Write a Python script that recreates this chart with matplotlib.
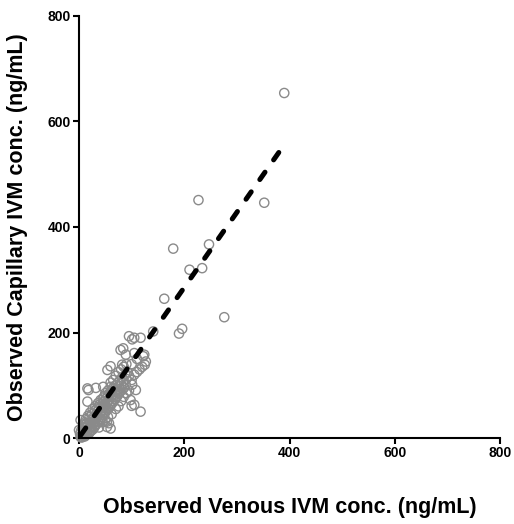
import matplotlib
matplotlib.use("Agg")
import matplotlib.pyplot as plt

plt.rcParams["font.family"] = ["Liberation Sans", "DejaVu Sans"]
plt.rcParams["font.weight"] = "bold"
plt.rcParams["lines.scale_dashes"] = False

# observed venous (x) vs capillary (y) IVM concentrations, ng/mL
venous = [
    390, 227, 352, 179, 247, 210, 234, 162, 276, 196, 190, 141,
    95, 105, 101, 117, 79, 84, 124, 105, 127, 89, 82, 60, 54, 110, 100, 122, 125,
    100, 108, 101, 98, 105, 117, 60, 57, 53, 53, 18, 46, 16, 32, 60, 16, 48, 3, 0,
    5, 8, 10, 12, 14, 15, 18, 20, 22, 24, 25, 27, 28, 30, 32, 33, 35, 36, 38, 40,
    42, 43, 45, 46, 48, 50, 52, 54, 55, 57, 58, 60, 62, 64, 65, 68, 70, 72, 74, 76,
    78, 80, 82, 85, 88, 90, 92, 95,
    6, 9, 11, 13, 16, 19, 21, 23, 26, 29, 31, 34, 37, 39, 41, 44, 47, 49, 51, 53,
    56, 59, 61, 63, 66, 69, 71, 73, 75, 77, 79, 83, 86, 89,
    2, 4, 7, 9, 11, 13, 17, 21, 26, 31, 36, 41, 3, 5, 7,
    10, 12, 15, 20, 25, 30, 35, 40, 45, 50, 55, 60, 65, 70, 75, 80, 85, 90,
    38, 45, 50, 55, 62, 70, 75, 80, 85, 90, 95, 100, 105, 110, 115, 120,
]
capillary = [
    654, 451, 446, 359, 367, 319, 322, 264, 229, 207, 198, 202,
    193, 190, 187, 190, 167, 170, 158, 161, 145, 158, 139, 136, 129, 150, 140, 155, 139,
    61, 91, 101, 72, 63, 50, 18, 28, 21, 31, 91, 97, 94, 95, 97, 69, 79, 34, 15,
    5, 12, 8, 15, 20, 10, 25, 18, 30, 22, 35, 28, 40, 32, 45, 38, 50, 42, 55, 48,
    60, 52, 65, 58, 70, 62, 75, 68, 80, 72, 85, 78, 90, 82, 95, 88, 100, 92, 105, 98,
    110, 102, 115, 108, 120, 112, 125, 118,
    2, 4, 3, 6, 7, 9, 12, 14, 16, 20, 24, 27, 30, 34, 36, 40, 44, 48, 50, 54,
    56, 60, 64, 66, 70, 74, 77, 80, 84, 86, 89, 92, 96, 100,
    8, 14, 20, 26, 30, 36, 42, 48, 55, 60, 66, 72, 2, 1, 6,
    20, 25, 28, 40, 45, 52, 58, 64, 75, 85, 90, 105, 110, 118, 125, 130, 135, 140,
    20, 30, 35, 40, 45, 55, 60, 70, 78, 85, 90, 110, 120, 125, 130, 135,
]

# fitted line end points
fit_x = [3, 390]
fit_y = [5, 556]

fig = plt.figure(figsize=(5.14, 5.24), dpi=100)
ax = fig.add_axes([0.1537, 0.1641, 0.8191, 0.8054])

ax.scatter(venous, capillary, s=44, facecolors="none", edgecolors="#8a8a8a",
           linewidths=1.0, clip_on=False, zorder=2)
ax.plot(fit_x, fit_y, color="black", lw=3.6, dashes=(6.5, 10.8),
        dash_capstyle="round", zorder=3)

ax.set_xlim(0, 800)
ax.set_ylim(0, 800)
ax.set_xticks([0, 200, 400, 600, 800])
ax.set_yticks([0, 200, 400, 600, 800])
for side in ("top", "right"):
    ax.spines[side].set_visible(False)
for side in ("left", "bottom"):
    ax.spines[side].set_linewidth(1.5)
ax.tick_params(length=4, width=1.5, labelsize=10, pad=2)
for lab in ax.get_xticklabels() + ax.get_yticklabels():
    lab.set_fontweight("bold")

ax.set_xlabel("Observed Venous IVM conc. (ng/mL)", fontsize=15.5, fontweight="bold")
ax.set_ylabel("Observed Capillary IVM conc. (ng/mL)", fontsize=15.5, fontweight="bold")
ax.xaxis.set_label_coords(0.5, -0.14)
ax.yaxis.set_label_coords(-0.122, 0.5)

fig.savefig("out.png", dpi=100)
